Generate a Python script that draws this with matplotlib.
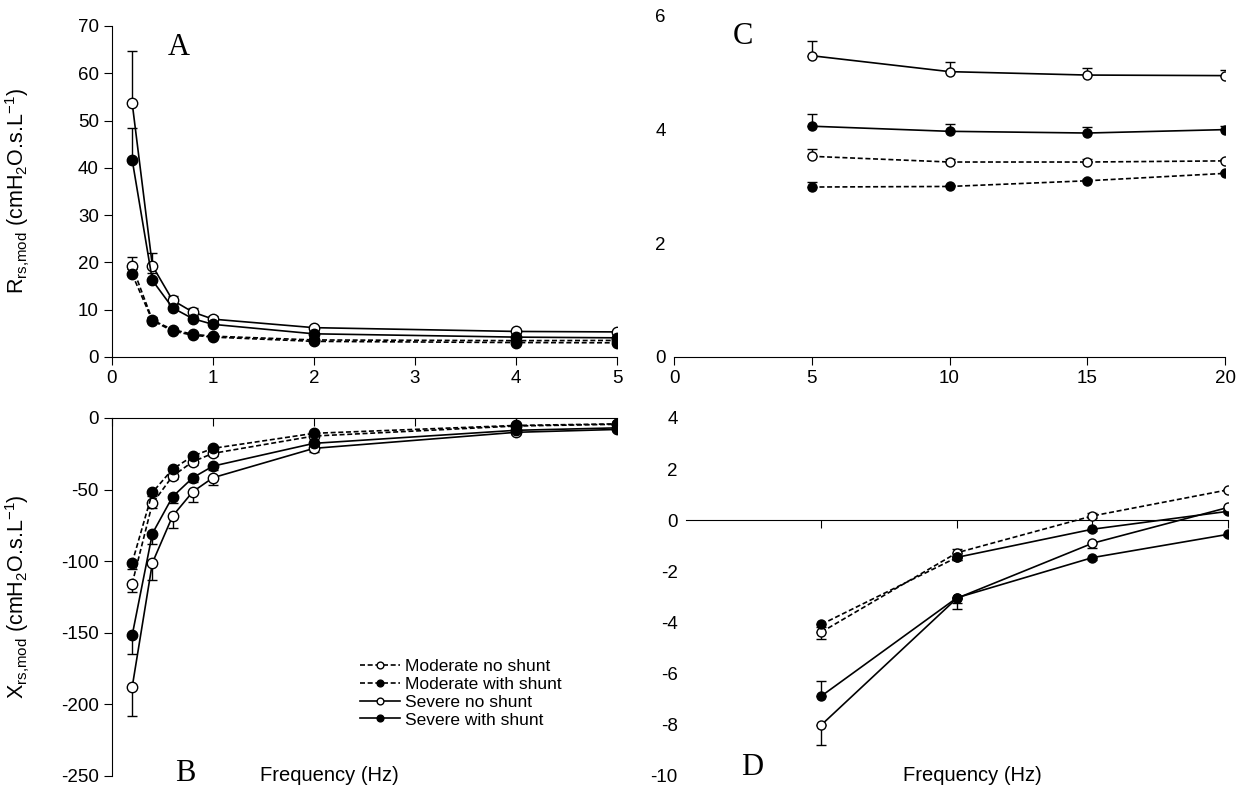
#!/usr/bin/env python

"""Respiratory resistance (A, C) and reactance (B, D) vs. frequency."""

import matplotlib
matplotlib.use("Agg")
import matplotlib.pyplot as plt

plt.rcParams["font.family"] = ["Liberation Sans", "DejaVu Sans"]
plt.rcParams["mathtext.default"] = "regular"
plt.rcParams["axes.unicode_minus"] = False

# low-frequency range (panels A and B)
freq_low = [0.2, 0.4, 0.6, 0.8, 1, 2, 4, 5]

r_mod_no = [19.2, 7.8, 5.8, 4.8, 4.4, 3.6, 3.45, 3.5]
r_mod_sh = [17.5, 7.7, 5.5, 4.6, 4.2, 3.3, 3.05, 3.0]
r_sev_no = [53.7, 19.3, 12.0, 9.5, 8.0, 6.2, 5.4, 5.3]
r_sev_sh = [41.7, 16.2, 10.4, 8.1, 6.9, 4.9, 4.2, 4.05]
r_mod_no_err = [2.0, 0.6, 0.4, 0.3, 0.3, 0.2, 0.15, 0.13]
r_mod_sh_err = [1.0, 0.4, 0.3, 0.2, 0.2, 0.1, 0.08, 0.08]
r_sev_no_err = [11.0, 2.7, 1.0, 0.8, 0.7, 0.4, 0.3, 0.26]
r_sev_sh_err = [6.8, 1.5, 0.8, 0.6, 0.5, 0.3, 0.25, 0.22]

x_mod_no = [-115.6, -59.7, -40.6, -30.5, -24.7, -12.6, -5.6, -4.4]
x_mod_sh = [-101.0, -52.0, -35.7, -26.6, -21.2, -10.7, -5.2, -4.1]
x_sev_no = [-187.9, -101.2, -68.5, -51.5, -41.7, -21.2, -10.0, -8.0]
x_sev_sh = [-151.7, -80.7, -55.0, -41.7, -33.6, -17.7, -8.6, -6.9]
x_mod_no_err = [6.0, 3.0, 2.0, 2.0, 1.5, 1.0, 0.4, 0.3]
x_mod_sh_err = [4.6, 2.5, 1.5, 1.2, 1.0, 0.7, 0.3, 0.2]
x_sev_no_err = [20.5, 12.0, 8.5, 7.0, 5.3, 2.5, 1.2, 0.8]
x_sev_sh_err = [13.3, 7.0, 4.7, 3.0, 2.5, 1.5, 0.8, 0.5]

# high-frequency range (panels C and D)
freq_high = [5, 10, 15, 20]

rc_mod_no = [3.53, 3.43, 3.43, 3.45]
rc_mod_sh = [2.99, 3.00, 3.10, 3.23]
rc_sev_no = [5.30, 5.02, 4.96, 4.95]
rc_sev_sh = [4.06, 3.97, 3.94, 4.00]
rc_mod_no_err = [0.13, 0.06, 0.06, 0.04]
rc_mod_sh_err = [0.08, 0.03, 0.03, 0.02]
rc_sev_no_err = [0.26, 0.17, 0.12, 0.10]
rc_sev_sh_err = [0.22, 0.13, 0.10, 0.06]

xd_mod_no = [-4.37, -1.27, 0.17, 1.19]
xd_mod_sh = [-4.07, -1.45, -0.35, 0.35]
xd_sev_no = [-8.0, -3.05, -0.9, 0.5]
xd_sev_sh = [-6.87, -3.03, -1.46, -0.55]
# [below, above]
xd_mod_no_err = [[0.26, 0.0, 0.1, 0.05], [0.0, 0.13, 0.1, 0.05]]
xd_mod_sh_err = [[0.1, 0.1, 0.05, 0.05], [0.0, 0.0, 0.0, 0.0]]
xd_sev_no_err = [[0.8, 0.4, 0.2, 0.1], [0.0, 0.0, 0.0, 0.0]]
xd_sev_sh_err = [[0.0, 0.2, 0.1, 0.05], [0.6, 0.0, 0.0, 0.0]]

labels = ["Moderate no shunt", "Moderate with shunt",
          "Severe no shunt", "Severe with shunt"]
filled = [False, True, False, True]
dashed = [True, True, False, False]

DASH = (0, (3, 1.6))
FS = 13.5
LAB_FS = 15.5


def draw(ax, x, y, err, is_filled, is_dashed, ms, label=None):
    """Error bars first, then the line with circle markers."""
    ax.errorbar(x, y, yerr=err, fmt="none", ecolor="black",
                elinewidth=1, capsize=3.5, capthick=1, zorder=2)
    line, = ax.plot(x, y, color="black", lw=1.2,
                    ls=DASH if is_dashed else "-",
                    marker="o", ms=ms, mew=1,
                    mfc="black" if is_filled else "white", mec="black",
                    label=label, zorder=3)
    return line


fig = plt.figure(figsize=(12.54, 7.97), dpi=100)
ax_a = fig.add_axes([0.0893, 0.5521, 0.4027, 0.4153])
ax_b = fig.add_axes([0.0893, 0.02635, 0.4027, 0.4492])
ax_c = fig.add_axes([0.5375, 0.5521, 0.4394, 0.4279])
ax_d = fig.add_axes([0.5470, 0.02635, 0.4322, 0.4492])

# A
r_series = [r_mod_no, r_mod_sh, r_sev_no, r_sev_sh]
r_errs = [r_mod_no_err, r_mod_sh_err, r_sev_no_err, r_sev_sh_err]
for y, e, f, d in zip(r_series, r_errs, filled, dashed):
    draw(ax_a, freq_low, y, [[0] * len(e), e], f, d, 7.5)
ax_a.set_xlim(0, 5)
ax_a.set_ylim(0, 70)
ax_a.set_yticks(range(0, 71, 10))
ax_a.set_xticks(range(0, 6))
for s in ("top", "right"):
    ax_a.spines[s].set_visible(False)
ax_a.tick_params(direction="out", length=6, labelsize=FS)
ax_a.set_ylabel(r"R$_{rs{,}mod}$ (cmH$_2$O.s.L$^{-1}$)", fontsize=LAB_FS)
ax_a.yaxis.set_label_coords(-0.158, 0.5)

# B
x_series = [x_mod_no, x_mod_sh, x_sev_no, x_sev_sh]
x_errs = [x_mod_no_err, x_mod_sh_err, x_sev_no_err, x_sev_sh_err]
handles = []
for y, e, f, d, lab in zip(x_series, x_errs, filled, dashed, labels):
    handles.append(draw(ax_b, freq_low, y, [e, [0] * len(e)], f, d, 7.5,
                        label=lab))
ax_b.set_xlim(0, 5)
ax_b.set_ylim(-250, 0)
ax_b.set_yticks(range(-250, 1, 50))
ax_b.set_xticks(range(0, 6))
for s in ("bottom", "right"):
    ax_b.spines[s].set_visible(False)
ax_b.xaxis.tick_top()
ax_b.tick_params(axis="x", direction="in", length=6, labeltop=False)
ax_b.tick_params(axis="y", direction="out", length=6, labelsize=FS)
ax_b.set_ylabel(r"X$_{rs{,}mod}$ (cmH$_2$O.s.L$^{-1}$)", fontsize=LAB_FS)
ax_b.yaxis.set_label_coords(-0.158, 0.5)
fig.legend(handles=handles, loc="upper left",
           bbox_to_anchor=(0.287, 0.173), frameon=False, fontsize=12.5,
           handlelength=2.3, handletextpad=0.3, labelspacing=0.15,
           borderpad=0, borderaxespad=0, markerscale=0.65)

# C
rc_series = [rc_mod_no, rc_mod_sh, rc_sev_no, rc_sev_sh]
rc_errs = [rc_mod_no_err, rc_mod_sh_err, rc_sev_no_err, rc_sev_sh_err]
for y, e, f, d in zip(rc_series, rc_errs, filled, dashed):
    draw(ax_c, freq_high, y, [[0] * len(e), e], f, d, 6.5)
ax_c.set_xlim(0, 20)
ax_c.set_ylim(0, 6)
ax_c.set_yticks(range(0, 7, 2))
ax_c.set_xticks(range(0, 21, 5))
for s in ("top", "right", "left"):
    ax_c.spines[s].set_visible(False)
ax_c.tick_params(axis="x", direction="out", length=6, labelsize=FS)
ax_c.tick_params(axis="y", length=0, pad=6, labelsize=FS)

# D
xd_series = [xd_mod_no, xd_mod_sh, xd_sev_no, xd_sev_sh]
xd_errs = [xd_mod_no_err, xd_mod_sh_err, xd_sev_no_err, xd_sev_sh_err]
for i, (y, e, f, d) in enumerate(zip(xd_series, xd_errs, filled, dashed)):
    if i == 1:
        # this series switches to a solid line after 10 Hz in the source
        draw(ax_d, freq_high[:2], y[:2], [e[0][:2], e[1][:2]], f, True, 6.5)
        draw(ax_d, freq_high[1:], y[1:], [e[0][1:], e[1][1:]], f, False, 6.5)
    else:
        draw(ax_d, freq_high, y, e, f, d, 6.5)
ax_d.set_xlim(0, 20)
ax_d.set_ylim(-10, 4)
ax_d.set_yticks(range(-10, 5, 2))
ax_d.set_xticks(range(5, 21, 5))
for s in ("top", "right", "left"):
    ax_d.spines[s].set_visible(False)
ax_d.spines["bottom"].set_position(("data", 0))
ax_d.tick_params(axis="x", direction="out", length=6, labelbottom=False)
ax_d.tick_params(axis="y", length=0, pad=6, labelsize=FS)

# axis titles and panel letters
fig.text(0.263, 0.0276, "Frequency (Hz)", ha="center", va="center",
         fontsize=14.5)
fig.text(0.7755, 0.0276, "Frequency (Hz)", ha="center", va="center",
         fontsize=14.5)
for letter, (px, py) in zip("ABCD", [(0.1427, 0.9398), (0.1475, 0.0300),
                                     (0.5925, 0.9536), (0.5994, 0.0364)]):
    fig.text(px, py, letter, ha="center", va="center", fontsize=22,
             family=["Liberation Serif", "DejaVu Serif"])

fig.savefig("out.png", dpi=100)
